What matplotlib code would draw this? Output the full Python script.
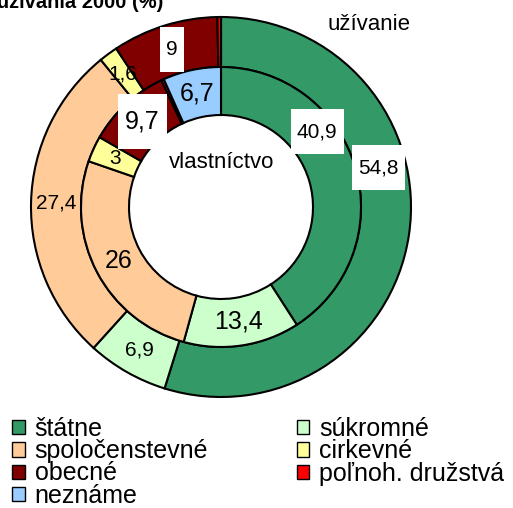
import matplotlib.pyplot as plt
import numpy as np
from matplotlib.patches import Patch
from matplotlib.path import Path

plt.rcParams['font.family'] = ['Liberation Sans', 'DejaVu Sans']

# --- údaje ---
categories = ["štátne", "súkromné", "spoločenstevné", "cirkevné",
              "obecné", "poľnoh. družstvá", "neznáme"]
colors = ["#339966", "#CCFFCC", "#FFCC99", "#FFFF99",
          "#800000", "#FF0000", "#99CCFF"]

# vnútorný kruh - vlastníctvo (%)
vlastnictvo = [40.9, 13.4, 26.0, 3.0, 9.7, 0.3, 6.7]
# vonkajší kruh - užívanie (%)
uzivanie = [54.8, 6.9, 27.4, 1.6, 9.0, 0.3, 0.0]

title = "Štruktúra lesov podľa vlastníctva a užívania 2000 (%)"

# --- rozloženie (v pixeloch) ---
W, H = 513, 508
cx, cy = 221, H - 207
r_out, r_mid, r_in = 190, 140, 92

fig = plt.figure(figsize=(W / 100, H / 100), dpi=100)
ax = fig.add_axes([0, 0, 1, 1])

edge = dict(edgecolor="black", linewidth=1.5)
ax.pie(uzivanie, colors=colors, radius=r_out, center=(cx, cy), startangle=90,
       counterclock=False, frame=True, wedgeprops=dict(width=r_out - r_mid, **edge))
ax.pie(vlastnictvo, colors=colors, radius=r_mid, center=(cx, cy), startangle=90,
       counterclock=False, frame=True, wedgeprops=dict(width=r_mid - r_in, **edge))
ax.set_xlim(0, W)
ax.set_ylim(0, H)
ax.axis("off")


def label_box(x0, y0, width, height, mutation_size):
    # biely obdĺžnik, vyšší ako text (ako v Exceli)
    px, py = 0.3 * mutation_size, 0.62 * mutation_size
    return Path([(x0 - px, y0 - py), (x0 + width + px, y0 - py),
                 (x0 + width + px, y0 + height + py), (x0 - px, y0 + height + py),
                 (x0 - px, y0 - py)], closed=True)


# popisky ručne posunuté v grafe: index -> (uhol od vrchu, polomer)
moved = {"in": {0: (52, 122)}, "out": {0: (76, 162)}}
boxed = {"in": {0, 4}, "out": {0, 4}}
big = {"in": {1, 2, 4, 6}, "out": set()}


def ring_labels(values, key, r_lab):
    total = sum(values)
    cum = np.cumsum([0] + values)
    for i, v in enumerate(values):
        if v < 1:
            continue
        ang = 360 * (cum[i] + v / 2) / total
        r = r_lab
        if i in moved[key]:
            ang, r = moved[key][i]
        x = cx + r * np.sin(np.radians(ang))
        y = cy + r * np.cos(np.radians(ang))
        txt = f"{v:g}".replace(".", ",")
        size = 18 if i in big[key] else 15
        bbox = dict(boxstyle=label_box, facecolor="white", edgecolor="none") \
            if i in boxed[key] else None
        ax.text(x, y, txt, ha="center", va="center", fontsize=size, bbox=bbox)


ring_labels(vlastnictvo, "in", (r_mid + r_in) / 2)
ring_labels(uzivanie, "out", (r_out + r_mid) / 2)

ax.text(cx + 1, H - 163, "vlastníctvo", ha="center", va="center", fontsize=16)
ax.text(369, H - 24, "užívanie", ha="center", va="center", fontsize=16)

fig.text(163 / W, (H - 8) / H, title, ha="right", va="baseline",
         fontsize=14.5, fontweight="bold")

order = [0, 2, 4, 6, 1, 3, 5]
handles = [Patch(facecolor=colors[i], edgecolor="black", linewidth=1) for i in order]
fig.legend(handles, [categories[i] for i in order], ncol=2, loc="upper left",
           bbox_to_anchor=(12 / W, (H - 417) / H), frameon=False, fontsize=18,
           handlelength=0.5, handleheight=0.5, handletextpad=0.4,
           columnspacing=3.55, labelspacing=-0.07, borderpad=0, borderaxespad=0)

fig.savefig("out.png", dpi=100)
